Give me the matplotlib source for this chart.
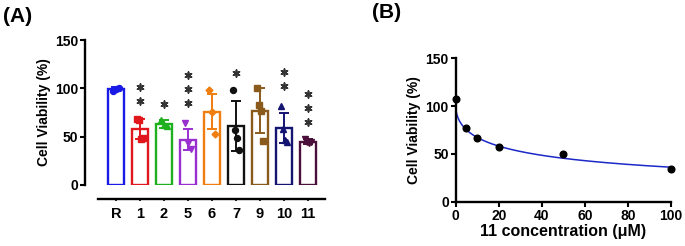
import matplotlib
matplotlib.use("Agg")
import matplotlib.pyplot as plt
import numpy as np

plt.rcParams['font.family'] = ['Liberation Sans', 'DejaVu Sans']
plt.rcParams['font.weight'] = 'bold'

# ---------------- data: panel A ----------------
categories = ['R', '1', '2', '5', '6', '7', '9', '10', '11']
means = [99, 58, 63, 47, 76, 61, 77, 59, 45]
sds = [2, 10, 4, 11, 18, 26, 23, 16, 3]
points = [
    [97, 99, 100],
    [68, 67, 48, 49],
    [67, 62, 61],
    [64, 43, 37],
    [98, 76, 53],
    [98, 57, 49, 36],
    [100, 83, 77, 46],
    [82, 58, 47, 44],
    [48, 45, 43, 44],
]
stars = ['', '**', '*', '***', '', '*', '', '**', '***']
star_base = [0, 87, 83.5, 85, 0, 116, 0, 102, 65]

colors = ['#1a1ae6', '#e0181e', '#1fb01f', '#9a2fd0', '#f07d0f',
          '#111111', '#8a5a1c', '#141473', '#4a0f3a']
markers = ['o', 's', '^', 'v', 'D', 'o', 's', '^', 'v']

# ---------------- data: panel B ----------------
conc = [0, 5, 10, 20, 50, 100]
viability = [107, 77.5, 67, 57, 49.5, 34]
fit_top = 100.0
fit_ic50 = 36.0
fit_hill = 0.56

fig = plt.figure(figsize=(6.85, 2.46), dpi=100)

# ---------------- panel A ----------------
axA = fig.add_axes([85/685, 1-185/246, 240/685, 145/246])
x = np.arange(len(categories))
for i in range(len(categories)):
    axA.bar(x[i], means[i], width=0.7, facecolor='white', edgecolor=colors[i],
            linewidth=1.7, zorder=2)
    axA.errorbar(x[i], means[i], yerr=sds[i], color=colors[i], capsize=3.3,
                 elinewidth=1.4, capthick=1.4, fmt='none', zorder=3)
    n = len(points[i])
    offs = np.linspace(-0.14, 0.14, n) if n > 1 else [0]
    ms = 3.5 if markers[i] == 'D' else 4.3
    axA.plot(x[i] + np.array(offs), points[i], ls='none', marker=markers[i],
             color=colors[i], ms=ms, zorder=4)
    for k in range(len(stars[i])):
        axA.scatter(x[i], star_base[i] + 14.5*k, marker=(6, 2, 0), s=24,
                    color='#333333', linewidths=1.2, zorder=5, clip_on=False)

axA.set_xlim(-1.29, 8.71)
axA.set_ylim(0, 150)
axA.set_yticks([0, 50, 100, 150])
axA.set_xticks(x)
axA.set_xticklabels(categories)
for s in ['top', 'right']:
    axA.spines[s].set_visible(False)
axA.spines['left'].set_linewidth(1.7)
axA.spines['bottom'].set_linewidth(1.7)
axA.spines['bottom'].set_position(('outward', 10))
axA.spines['bottom'].set_bounds(-0.75, 8.71)
axA.tick_params(axis='x', length=1.5, width=1.2, pad=4, labelsize=10.5)
axA.tick_params(axis='y', length=3.5, width=1.5, pad=1.5, labelsize=10)
axA.set_ylabel('Cell Viability (%)', fontsize=10, fontweight='bold', labelpad=3)

# ---------------- panel B ----------------
axB = fig.add_axes([455.7/685, 1-201.7/246, 215.3/685, 143.4/246])
xx = np.linspace(0, 100, 600)
yy = fit_top / (1 + (xx / fit_ic50) ** fit_hill)
axB.plot(xx, yy, color='#1c28c8', lw=1.1, zorder=2)
axB.plot(conc, viability, ls='none', marker='o', color='black', ms=4.8,
         zorder=3, clip_on=False)
axB.set_xlim(0, 100)
axB.set_ylim(0, 150)
axB.set_xticks([0, 20, 40, 60, 80, 100])
axB.set_yticks([0, 50, 100, 150])
for s in ['top', 'right']:
    axB.spines[s].set_visible(False)
axB.spines['left'].set_linewidth(1.7)
axB.spines['bottom'].set_linewidth(1.7)
axB.tick_params(length=3.5, width=1.5, labelsize=10, pad=1.5)
axB.set_ylabel('Cell Viability (%)', fontsize=10, fontweight='bold', labelpad=3)
axB.set_xlabel('11 concentration (\u03bcM)', fontsize=11.5, fontweight='bold', labelpad=1)

fig.text(3/685, 1-16/246, '(A)', fontsize=15, fontweight='bold', va='center', ha='left')
fig.text(372/685, 1-13/246, '(B)', fontsize=15, fontweight='bold', va='center', ha='left')

fig.savefig('out.png', dpi=100)
